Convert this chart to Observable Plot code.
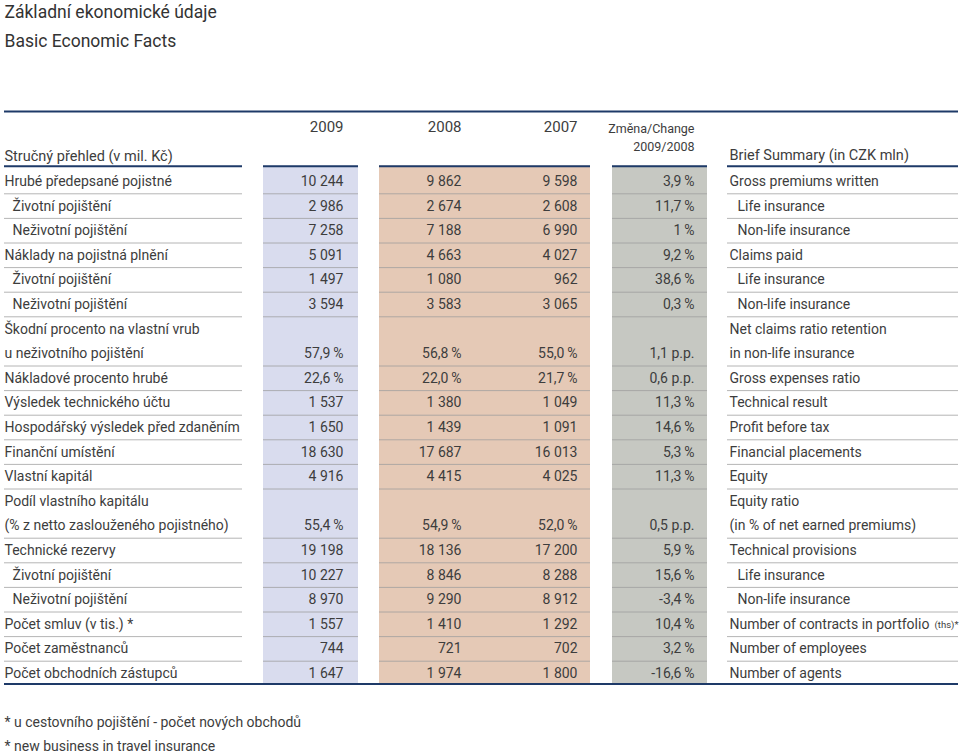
<!DOCTYPE html>
<html><head><meta charset="utf-8">
<script src="https://cdn.jsdelivr.net/npm/d3@7"></script>
<script src="https://cdn.jsdelivr.net/npm/@observablehq/plot@0.6"></script>
<style>body{margin:0;background:#fff}</style>
</head><body><div id="chart"></div>
<script>
const titleCZ = "Základní ekonomické údaje";
const titleEN = "Basic Economic Facts";
const years = ["2009", "2008", "2007"];
const changeHeader = ["Změna/Change", "2009/2008"];
const headCZ = "Stručný přehled (v mil. Kč)";
const headEN = "Brief Summary (in CZK mln)";
const footnotes = ["* u cestovního pojištění - počet nových obchodů", "* new business in travel insurance"];

const labelsCZ = [
  "Hrubé předepsané pojistné", "Životní pojištění", "Neživotní pojištění",
  "Náklady na pojistná plnění", "Životní pojištění", "Neživotní pojištění",
  "Škodní procento na vlastní vrub\nu neživotního pojištění",
  "Nákladové procento hrubé", "Výsledek technického účtu",
  "Hospodářský výsledek před zdaněním", "Finanční umístění", "Vlastní kapitál",
  "Podíl vlastního kapitálu\n(% z netto zaslouženého pojistného)",
  "Technické rezervy", "Životní pojištění", "Neživotní pojištění",
  "Počet smluv (v tis.) *", "Počet zaměstnanců", "Počet obchodních zástupců"
];
const labelsEN = [
  "Gross premiums written", "Life insurance", "Non-life insurance",
  "Claims paid", "Life insurance", "Non-life insurance",
  "Net claims ratio retention\nin non-life insurance",
  "Gross expenses ratio", "Technical result",
  "Profit before tax", "Financial placements", "Equity",
  "Equity ratio\n(in % of net earned premiums)",
  "Technical provisions", "Life insurance", "Non-life insurance",
  "Number of contracts in portfolio", "Number of employees", "Number of agents"
];
const indented = [false, true, true, false, true, true, false, false, false, false, false, false, false, false, true, true, false, false, false];
const v2009 = [10244, 2986, 7258, 5091, 1497, 3594, 57.9, 22.6, 1537, 1650, 18630, 4916, 55.4, 19198, 10227, 8970, 1557, 744, 1647];
const v2008 = [9862, 2674, 7188, 4663, 1080, 3583, 56.8, 22.0, 1380, 1439, 17687, 4415, 54.9, 18136, 8846, 9290, 1410, 721, 1974];
const v2007 = [9598, 2608, 6990, 4027, 962, 3065, 55.0, 21.7, 1049, 1091, 16013, 4025, 52.0, 17200, 8288, 8912, 1292, 702, 1800];
const valueUnit = ["n", "n", "n", "n", "n", "n", "%", "%", "n", "n", "n", "n", "%", "n", "n", "n", "n", "n", "n"];
const change = [3.9, 11.7, 1, 9.2, 38.6, 0.3, 1.1, 0.6, 11.3, 14.6, 5.3, 11.3, 0.5, 5.9, 15.6, -3.4, 10.4, 3.2, -16.6];
const changeUnit = ["%", "%", "%", "%", "%", "%", "p.p.", "p.p.", "%", "%", "%", "%", "p.p.", "%", "%", "%", "%", "%", "%"];
const enSuffix = {16: "(ths)*"};

// layout (style)
const FONT = "Roboto, 'Open Sans', sans-serif";
const TXT = "#3d3d3d";
const NAVY = "#1e3a68";
const FS = 14;
const colRight = [343, 461, 577, 694];
const xCZ = 4, xEN = 729, indent = 8;
const segments = [[4, 242], [263, 358], [379, 590], [612, 707], [727, 958]];
const blocks = [{x1: 263, x2: 358, fill: "#d9dcee"}, {x1: 379, x2: 590, fill: "#e5c9b6"}, {x1: 612, x2: 707, fill: "#c6c8c2"}];

const loc = d3.formatLocale({decimal: ",", thousands: " ", grouping: [3], currency: ["", " Kč"], minus: "-"});
const fInt = loc.format(",d"), fPct = loc.format(",.1f"), fChg = loc.format(",.1~f");
const fmtVal = (v, u) => u === "%" ? fPct(v) + "\u2009%" : fInt(v);

// build line table
const lines = [], values = [], seps = [];
let line = 0;
labelsCZ.forEach((cz, i) => {
  const czParts = cz.split("\n"), enParts = labelsEN[i].split("\n");
  const n = Math.max(czParts.length, enParts.length);
  const last = line + n - 1;
  czParts.forEach((t, k) => lines.push({text: t, x: xCZ + (indented[i] ? indent : 0), y: last - (czParts.length - 1 - k)}));
  enParts.forEach((t, k) => lines.push({text: t, x: xEN + (indented[i] ? indent : 0), y: last - (enParts.length - 1 - k)}));
  [v2009[i], v2008[i], v2007[i]].forEach((v, c) => values.push({text: fmtVal(v, valueUnit[i]), x: colRight[c], y: last}));
  values.push({text: fChg(change[i]) + (changeUnit[i] === "%" ? "\u2009%" : " p.p."), x: colRight[3], y: last});
  if (enSuffix[i]) values.push({text: enSuffix[i], x: 958, y: last, small: true});
  if (i < labelsCZ.length - 1) segments.forEach(([a, b]) => seps.push({x1: a, x2: b, y: last + 0.5}));
  line = last + 1;
});
const lastLine = line - 1;
const headTop = -0.62, bottom = lastLine + 0.43;

const chart = Plot.plot({
  width: 960, height: 755, margin: 0,
  x: {type: "linear", domain: [0, 960], range: [0, 960], axis: null},
  y: {type: "linear", domain: [0, 20], range: [181, 673], axis: null},
  style: {fontFamily: FONT, color: TXT, background: "#fff"},
  marks: [
    Plot.rect(blocks, {x1: "x1", x2: "x2", y1: headTop, y2: bottom, fill: "fill"}),
    Plot.ruleY(seps, {x1: "x1", x2: "x2", y: "y", stroke: "#9c9c9c", strokeOpacity: 0.75, strokeWidth: 1}),
    Plot.ruleY([-2.85], {x1: 4, x2: 958, stroke: NAVY, strokeWidth: 2}),
    Plot.ruleY([bottom], {x1: 4, x2: 958, stroke: NAVY, strokeWidth: 2}),
    Plot.ruleY(segments, {x1: d => d[0], x2: d => d[1], y: headTop, stroke: NAVY, strokeWidth: 2}),
    Plot.text(lines, {x: "x", y: "y", text: "text", textAnchor: "start", fontSize: FS, fill: TXT}),
    Plot.text(values.filter(d => !d.small), {x: "x", y: "y", text: "text", textAnchor: "end", fontSize: FS, fill: TXT}),
    Plot.text(values.filter(d => d.small), {x: "x", y: "y", text: "text", textAnchor: "end", fontSize: 9.5, fill: TXT, dy: 1}),
    // headers
    Plot.text(years, {x: (d, i) => colRight[i], y: -2.21, text: d => d, textAnchor: "end", fontSize: 15, fill: TXT}),
    Plot.text([changeHeader[0]], {x: colRight[3], y: -2.14, text: d => d, textAnchor: "end", fontSize: 12.5, fill: TXT}),
    Plot.text([changeHeader[1]], {x: colRight[3], y: -1.39, text: d => d, textAnchor: "end", fontSize: 12.5, fill: TXT}),
    Plot.text([headCZ], {x: xCZ, y: -1.04, text: d => d, textAnchor: "start", fontSize: 14.5, fill: TXT}),
    Plot.text([headEN], {x: xEN, y: -1.06, text: d => d, textAnchor: "start", fontSize: 14.5, fill: TXT}),
    // titles
    Plot.text([titleCZ], {x: xCZ, y: -6.87, text: d => d, textAnchor: "start", fontSize: 17.5, fill: "#333"}),
    Plot.text([titleEN], {x: xCZ, y: -5.68, text: d => d, textAnchor: "start", fontSize: 17.5, fill: "#333"}),
    // footnotes
    Plot.text(footnotes, {x: xCZ, y: (d, i) => 21.98 + i * 1.0, text: d => d, textAnchor: "start", fontSize: FS, fill: TXT})
  ]
});
document.getElementById("chart").appendChild(chart);
</script>
</body></html>
